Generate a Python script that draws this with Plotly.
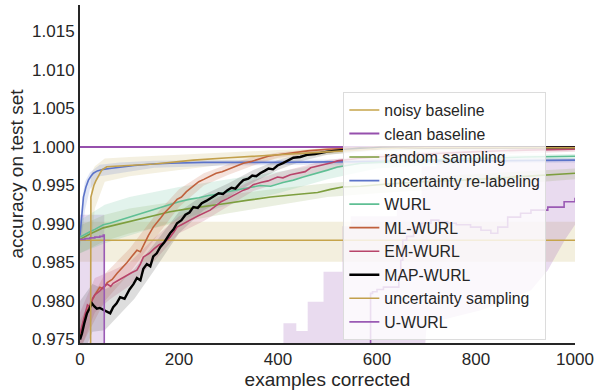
import plotly.graph_objects as go

# ---------------- data ----------------
x_span = [0, 1000]
noisy_y = [0.9879, 0.9879]
noisy_lo = [0.9851, 0.9851]
noisy_hi = [0.9903, 0.9903]

clean_y = [1.0, 1.0]

rand_x = [0, 20, 47, 80, 115, 150, 182, 220, 260, 298, 340, 385, 431, 480, 506, 530, 567, 621, 700, 775, 850, 920, 1000]
rand_y = [0.9880, 0.9887, 0.9895, 0.9900, 0.9905, 0.9911, 0.9916, 0.9920, 0.9924, 0.9927, 0.9931, 0.9935, 0.9938,
          0.9941, 0.9945, 0.9948, 0.9949, 0.9952, 0.9955, 0.9957, 0.9960, 0.9963, 0.9966]
rand_band_x = [0, 50, 100, 200, 300, 400, 500, 600, 800, 1000]
rand_hi = [0.9898, 0.9912, 0.9920, 0.9930, 0.9938, 0.9946, 0.9953, 0.9958, 0.9965, 0.9972]
rand_lo = [0.9862, 0.9878, 0.9888, 0.9902, 0.9914, 0.9925, 0.9935, 0.9940, 0.9948, 0.9958]

url_x = [0, 3, 7, 12, 17, 22, 27, 35, 47, 60, 81, 110, 148, 182, 250, 300, 400, 567, 700, 850, 1000]
url_y = [0.9885, 0.9905, 0.9935, 0.9948, 0.9957, 0.9962, 0.9966, 0.9969, 0.9971, 0.9972, 0.9974, 0.9976, 0.9978,
         0.9979, 0.9980, 0.9980, 0.9980, 0.9981, 0.9982, 0.9982, 0.9983]
url_band_x = [0, 5, 10, 20, 40, 80, 150, 300, 1000]
url_hi = [0.9900, 0.9935, 0.9955, 0.9967, 0.9977, 0.9980, 0.9982, 0.9983, 0.9985]
url_lo = [0.9870, 0.9890, 0.9918, 0.9945, 0.9962, 0.9966, 0.9973, 0.9976, 0.9980]

wurl_x = [0, 10, 20, 30, 47, 60, 80, 100, 115, 130, 145, 162, 182, 200, 220, 240, 260, 280, 298, 320, 340, 364,
          385, 410, 431, 451, 475, 500, 520, 545, 567, 600, 650, 700, 800, 900, 1000]
wurl_y = [0.9883, 0.9887, 0.9890, 0.9893, 0.9899, 0.9901, 0.9905, 0.9909, 0.9912, 0.9915, 0.9918, 0.9922, 0.9926,
          0.9929, 0.9932, 0.9934, 0.9937, 0.9939, 0.9942, 0.9945, 0.9947, 0.9950, 0.9949, 0.9954, 0.9957, 0.9961,
          0.9965, 0.9970, 0.9974, 0.9977, 0.9979, 0.9980, 0.9982, 0.9983, 0.9985, 0.9987, 0.9988]
wurl_band_x = [0, 50, 100, 200, 300, 400, 500, 600, 800, 1000]
wurl_hi = [0.9905, 0.9925, 0.9935, 0.9948, 0.9958, 0.9968, 0.9979, 0.9985, 0.9989, 0.9991]
wurl_lo = [0.9862, 0.9875, 0.9885, 0.9905, 0.9925, 0.9940, 0.9958, 0.9972, 0.9980, 0.9984]

ml_x = [0, 10, 20, 30, 40, 47, 55, 65, 75, 81, 90, 95, 105, 115, 122, 128, 138, 148, 155, 162, 170, 180, 188,
        196, 205, 215, 229, 240, 250, 262, 275, 287, 298, 315, 330, 345, 364, 380, 400, 431, 460, 500, 532, 600,
        800, 1000]
ml_y = [0.9755, 0.9780, 0.9795, 0.9808, 0.9818, 0.9816, 0.9824, 0.9828, 0.9836, 0.9840, 0.9846, 0.9850, 0.9858,
        0.9866, 0.9864, 0.9872, 0.9885, 0.9896, 0.9901, 0.9907, 0.9914, 0.9920, 0.9926, 0.9932, 0.9935, 0.9942,
        0.9950, 0.9955, 0.9958, 0.9962, 0.9966, 0.9968, 0.9971, 0.9975, 0.9979, 0.9981, 0.9985, 0.9988, 0.9990,
        0.9993, 0.9995, 0.9997, 0.9998, 0.99995, 0.99995, 0.99995]
ml_band_x = [0, 50, 100, 150, 200, 250, 300, 350, 400, 500, 600, 1000]
ml_hi = [0.9775, 0.9835, 0.9868, 0.9910, 0.9945, 0.9966, 0.9978, 0.9987, 0.9993, 0.9999, 1.0001, 1.0001]
ml_lo = [0.9738, 0.9800, 0.9836, 0.9880, 0.9922, 0.9950, 0.9964, 0.9976, 0.9986, 0.9994, 0.9998, 0.9998]

em_x = [0, 5, 10, 15, 20, 25, 30, 40, 47, 55, 62, 67, 75, 85, 95, 105, 115, 122, 128, 140, 150, 160, 170, 182,
        190, 196, 205, 215, 225, 240, 250, 263, 275, 285, 298, 310, 320, 330, 340, 350, 365, 380, 399, 410, 425,
        440, 455, 466, 480, 495, 510, 520, 532, 560, 600, 650, 700, 800, 900, 1000]
em_y = [0.9758, 0.9770, 0.9785, 0.9795, 0.9792, 0.9803, 0.9808, 0.9813, 0.9818, 0.9822, 0.9819, 0.9823, 0.9826,
        0.9830, 0.9834, 0.9837, 0.9840, 0.9848, 0.9857, 0.9862, 0.9868, 0.9873, 0.9876, 0.9883, 0.9890, 0.9896,
        0.9899, 0.9903, 0.9906, 0.9911, 0.9914, 0.9918, 0.9924, 0.9929, 0.9933, 0.9937, 0.9941, 0.9944, 0.9946,
        0.9951, 0.9954, 0.9956, 0.9961, 0.9960, 0.9964, 0.9966, 0.9968, 0.9973, 0.9975, 0.9977, 0.9980, 0.9982,
        0.9983, 0.9985, 0.9987, 0.9989, 0.9991, 0.9994, 0.9996, 0.9997]
em_band_x = [0, 30, 60, 100, 150, 200, 250, 300, 350, 400, 450, 500, 600, 800, 1000]
em_hi = [0.9785, 0.9830, 0.9838, 0.9850, 0.9882, 0.9910, 0.9924, 0.9942, 0.9957, 0.9967, 0.9975, 0.9983, 0.9991,
         0.9997, 0.9999]
em_lo = [0.9735, 0.9785, 0.9802, 0.9820, 0.9852, 0.9888, 0.9904, 0.9924, 0.9943, 0.9953, 0.9961, 0.9970, 0.9982,
         0.9990, 0.9994]

map_x = [0, 4, 9, 14, 19, 24, 29, 34, 40, 47, 54, 61, 67, 74, 81, 90, 100, 108, 115, 122, 128, 135, 142, 148, 155,
         162, 170, 176, 182, 189, 196, 205, 213, 221, 229, 238, 246, 255, 263, 272, 280, 289, 298, 306, 314, 322,
         330, 340, 348, 356, 364, 373, 381, 390, 399, 410, 420, 431, 445, 460, 475, 490, 500, 513, 526, 545, 565,
         585, 607, 640, 700, 800, 900, 1000]
map_y = [0.9750, 0.9758, 0.9772, 0.9784, 0.9790, 0.9797, 0.9793, 0.9790, 0.9791, 0.9789, 0.9787, 0.9784, 0.9792,
         0.9797, 0.9805, 0.9803, 0.9815, 0.9822, 0.9830, 0.9827, 0.9842, 0.9848, 0.9845, 0.9858, 0.9862, 0.9870,
         0.9876, 0.9883, 0.9888, 0.9893, 0.9901, 0.9905, 0.9912, 0.9915, 0.9922, 0.9921, 0.9927, 0.9930, 0.9933,
         0.9936, 0.9940, 0.9939, 0.9944, 0.9947, 0.9946, 0.9952, 0.9957, 0.9959, 0.9963, 0.9962, 0.9966, 0.9969,
         0.9972, 0.9971, 0.9976, 0.9979, 0.9982, 0.9986, 0.9987, 0.9990, 0.9991, 0.9993, 0.9994, 0.9995, 0.9996,
         0.9997, 0.9998, 0.9998, 0.9999, 0.9999, 0.99995, 0.99995, 0.99995, 0.99995]
map_band_x = [0, 25, 50, 80, 110, 150, 200, 250, 300, 350, 400, 450, 500, 600, 1000]
map_hi = [0.9800, 0.9822, 0.9815, 0.9825, 0.9842, 0.9874, 0.9916, 0.9938, 0.9953, 0.9970, 0.9983, 0.9992, 0.9997,
          1.0000, 1.0001]
map_lo = [0.9720, 0.9760, 0.9762, 0.9782, 0.9803, 0.9840, 0.9888, 0.9918, 0.9935, 0.9954, 0.9970, 0.9982, 0.9990,
          0.9996, 0.9998]

us_x = [0, 21, 22, 25, 28, 32, 37, 44, 54, 80, 115, 150, 182, 229, 300, 365, 420, 466, 532, 610, 700, 1000]
us_y = [0.9600, 0.9600, 0.9935, 0.9944, 0.9950, 0.9956, 0.9962, 0.9970, 0.99744, 0.9975, 0.99766, 0.9978, 0.9980,
        0.9983, 0.9986, 0.99883, 0.9991, 0.99926, 0.9995, 0.9998, 0.9999, 0.9999]
us_band_x = [22, 30, 50, 100, 200, 300, 400, 500, 600, 1000]
us_hi = [0.9965, 0.9975, 0.9985, 0.9987, 0.9990, 0.9993, 0.9996, 0.9998, 1.0000, 1.0001]
us_lo = [0.9870, 0.9920, 0.9955, 0.9962, 0.9970, 0.9978, 0.9984, 0.9990, 0.9995, 0.9997]

uw_x = [0, 10, 20, 30, 40, 47, 49, 587, 591, 600, 613, 644, 648, 652, 660, 674, 690, 709, 725, 743, 760, 789, 810,
        830, 844, 864, 890, 911, 945, 978, 1000]
uw_y = [0.9880, 0.9881, 0.9882, 0.9883, 0.9884, 0.98857, 0.9600, 0.9810, 0.9812, 0.9815, 0.9818, 0.9831, 0.9853,
        0.9879, 0.9884, 0.9896, 0.9901, 0.9905, 0.9903, 0.9901, 0.9899, 0.9896, 0.9892, 0.9888, 0.9896, 0.9909,
        0.9914, 0.9918, 0.9922, 0.9929, 0.9934]
uw_hi_x = [0, 48, 49, 411, 437, 460, 492, 530, 547, 640, 690, 720, 800, 1000]
uw_hi = [0.9912, 0.9912, 0.9600, 0.9771, 0.9761, 0.9799, 0.9838, 0.9897, 0.9910, 0.9925, 0.9975, 0.9982, 0.9985,
         0.9986]
uw_lo_x = [0, 680, 700, 729, 810, 860, 911, 945, 980, 1000]
uw_lo = [0.9600, 0.9600, 0.9765, 0.9775, 0.9788, 0.9800, 0.9814, 0.9840, 0.9880, 0.9899]

y_ticks = [0.975, 0.980, 0.985, 0.990, 0.995, 1.000, 1.005, 1.010, 1.015]
x_ticks = [0, 200, 400, 600, 800, 1000]

# ---------------- styling ----------------
C_NOISY = "#c6a44a"
C_CLEAN = "#9650ad"
C_RAND = "#7d9e3e"
C_URL = "#5b73c9"
C_WURL = "#5fbf94"
C_ML = "#c0603c"
C_EM = "#b8446a"
C_MAP = "#000000"
C_US = "#c2a04c"
C_UW = "#9a5ab4"


def rgba(hexc, a):
    h = hexc.lstrip("#")
    return f"rgba({int(h[0:2],16)},{int(h[2:4],16)},{int(h[4:6],16)},{a})"


fig = go.Figure()


def band(x, lo, hi, color, alpha, shape="linear", xlo=None):
    fig.add_trace(go.Scatter(x=xlo if xlo is not None else x, y=lo, mode="lines",
                             line=dict(width=0, shape=shape if xlo is None else "linear"),
                             showlegend=False, hoverinfo="skip"))
    fig.add_trace(go.Scatter(x=x, y=hi, mode="lines", line=dict(width=0, shape=shape),
                             fill="tonexty", fillcolor=rgba(color, alpha),
                             showlegend=False, hoverinfo="skip"))


band(x_span, noisy_lo, noisy_hi, "#c8b468", 0.22)
band(uw_hi_x, uw_lo, uw_hi, C_UW, 0.22, shape="hv", xlo=uw_lo_x)
band(us_band_x, us_lo, us_hi, "#c8b468", 0.2)
band(rand_band_x, rand_lo, rand_hi, C_RAND, 0.16)
band(url_band_x, url_lo, url_hi, C_URL, 0.18)
band(wurl_band_x, wurl_lo, wurl_hi, C_WURL, 0.18)
band(ml_band_x, ml_lo, ml_hi, C_ML, 0.18)
band(em_band_x, em_lo, em_hi, C_EM, 0.18)
band(map_band_x, map_lo, map_hi, "#555555", 0.2)


def line(x, y, name, color, width=1.6, shape="linear"):
    fig.add_trace(go.Scatter(x=x, y=y, mode="lines", name=name,
                             line=dict(color=color, width=width, shape=shape)))


line(x_span, noisy_y, "noisy baseline", C_NOISY)
line(x_span, clean_y, "clean baseline", C_CLEAN, width=2.2)
line(rand_x, rand_y, "random sampling", C_RAND)
line(url_x, url_y, "uncertainty re-labeling", C_URL)
line(wurl_x, wurl_y, "WURL", C_WURL)
line(ml_x, ml_y, "ML-WURL", C_ML)
line(em_x, em_y, "EM-WURL", C_EM)
line(map_x, map_y, "MAP-WURL", C_MAP, width=2.4)
line(us_x, us_y, "uncertainty sampling", C_US)
line(uw_x, uw_y, "U-WURL", C_UW, shape="hv")

FONT = "Liberation Sans, Arial, sans-serif"
fig.update_layout(
    width=594, height=391,
    margin=dict(l=80, r=19, t=5, b=48),
    paper_bgcolor="white", plot_bgcolor="white",
    font=dict(family=FONT, size=16, color="#262626"),
    showlegend=True,
    legend=dict(x=0.532, y=0.742, xanchor="left", yanchor="top", traceorder="normal",
                bgcolor="rgba(255,255,255,0.8)", bordercolor="#dcdcdc", borderwidth=1,
                font=dict(family=FONT, size=15.8, color="#262626"), tracegroupgap=0),
)
fig.update_xaxes(range=[0, 1000], tickvals=x_ticks, ticktext=[str(v) for v in x_ticks],
                 showgrid=False, zeroline=False, showline=True, linecolor="#262626", linewidth=2,
                 ticks="", automargin=False, title=dict(text="examples corrected", standoff=3),
                 tickfont=dict(size=17, color="#262626"))
fig.update_yaxes(range=[0.97455, 1.01844], tickvals=y_ticks, ticktext=[f"{v:.3f}" for v in y_ticks],
                 showgrid=False, zeroline=False, showline=True, linecolor="#262626", linewidth=2,
                 ticks="", automargin=False, title=dict(text="accuracy on test set", standoff=3),
                 tickfont=dict(size=17, color="#262626"))

fig.write_html("out.html", config={"displayModeBar": False},
               post_script="document.body.style.margin='0px';document.body.style.overflow='hidden';")
